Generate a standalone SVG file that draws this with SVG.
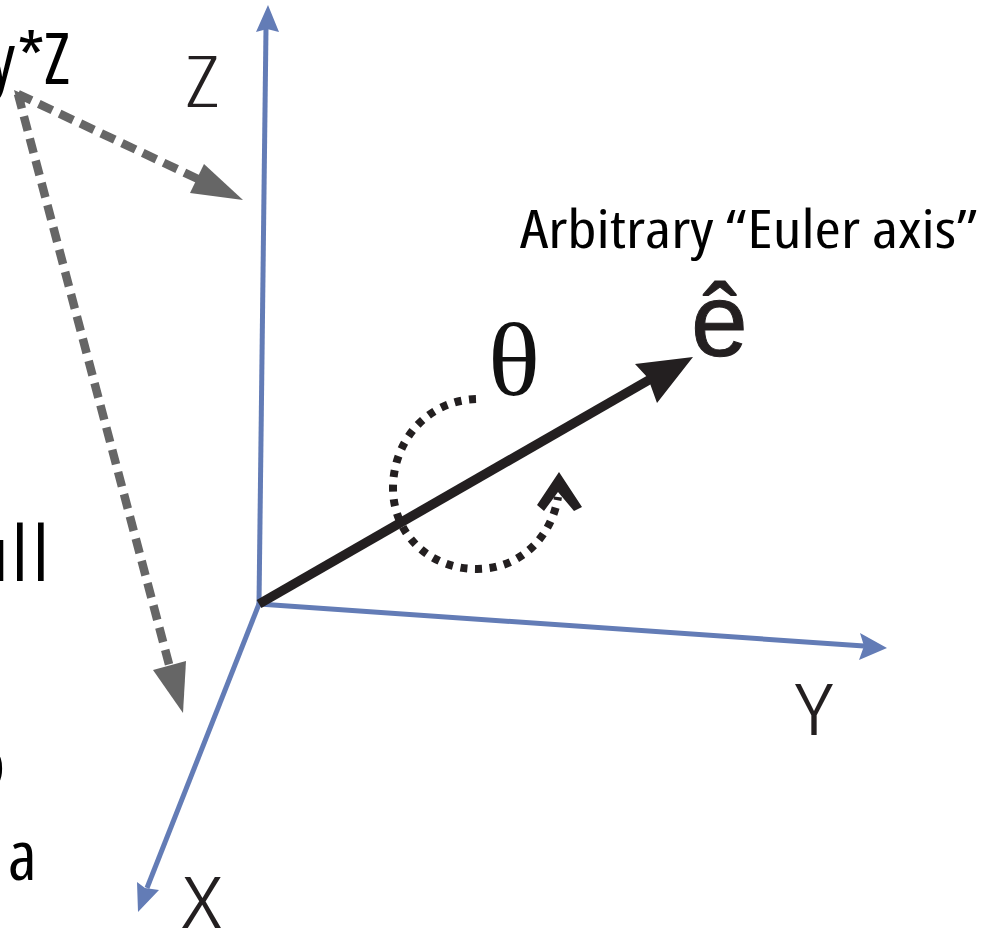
<svg xmlns="http://www.w3.org/2000/svg" width="998" height="928" viewBox="0 0 998 928">
<style>
.lb{font-family:"Open Sans","Noto Sans",sans-serif;font-stretch:condensed}
.k{fill:#000}.d{fill:#231f20;font-weight:300}
.axis{fill:none;stroke:#637cb6;stroke-width:5}
.gr{fill:none;stroke:#666;stroke-width:8.5;stroke-dasharray:15 8}
.dot{fill:none;stroke:#231f20;stroke-width:8;stroke-dasharray:7 7.6}
</style>
<rect width="998" height="928" fill="#fff"/>
<g id="connectors">
<g id="axes">
<path class="axis" d="M266 28L259 604"/>
<path fill="#637cb6" d="M268 5L279 32L267 29L256 32Z"/>
<path class="axis" d="M259 604L864 646"/>
<path fill="#637cb6" d="M887 648L859 660L864 646L860 633Z"/>
<path class="axis" d="M259 604L147 888"/>
<path fill="#637cb6" d="M138 912L137 882L145 888L159 890Z"/>
</g>
<g id="projections">
<path class="gr" d="M18 94L198 179"/>
<path fill="#666" d="M243 200L190 193L204 164Z"/>
<path class="gr" d="M18 94L170 668"/>
<path fill="#666" d="M183 713L153 670L186 661Z"/>
<path fill="#666" d="M14 90L30 97L19 108Z"/>
</g>
<path d="M259 604L668 369" fill="none" stroke="#231f20" stroke-width="9.5"/>
<path fill="#231f20" d="M693 357L657 403L648 378L635 364Z"/>
<path class="dot" d="M476 399C425 401 393 443 393 488C393 533 428 569 477 569C522 569 552 535 558 497"/>
<path fill="#231f20" d="M559 472L582 507L574 511L558 492L544 511L537 505Z"/>
</g>
<g id="label-z"><text class="lb d" x="185" y="107" font-size="72" textLength="34" lengthAdjust="spacingAndGlyphs">Z</text></g>
<g id="label-y"><text class="lb d" x="795" y="735" font-size="72" textLength="38" lengthAdjust="spacingAndGlyphs">Y</text></g>
<g id="label-x"><text class="lb d" x="181" y="928" font-size="72" textLength="41" lengthAdjust="spacingAndGlyphs">X</text></g>
<g id="label-euler"><text class="lb k" x="520" y="248" font-size="53" textLength="458" lengthAdjust="spacingAndGlyphs">Arbitrary “Euler axis”</text></g>
<g id="label-e"><text x="691" y="355" font-family="Liberation Sans,sans-serif" font-size="102" fill="#231f20" stroke="#231f20" stroke-width="1">ê</text></g>
<g id="label-theta"><text x="488" y="395" font-family="Liberation Serif,serif" font-size="103" fill="#111" textLength="52" lengthAdjust="spacingAndGlyphs">θ</text></g>
<g id="clipped-left">
<text class="lb k" x="-11 17 44" y="84" font-size="72">y*Z</text>
<text class="lb k" x="-26 12 33" y="581" font-size="76">ull</text>
<text class="lb k" x="5" y="787" font-size="70" text-anchor="end">o</text>
<text class="lb k" x="8" y="880" font-size="70">a</text>
</g>
</svg>
